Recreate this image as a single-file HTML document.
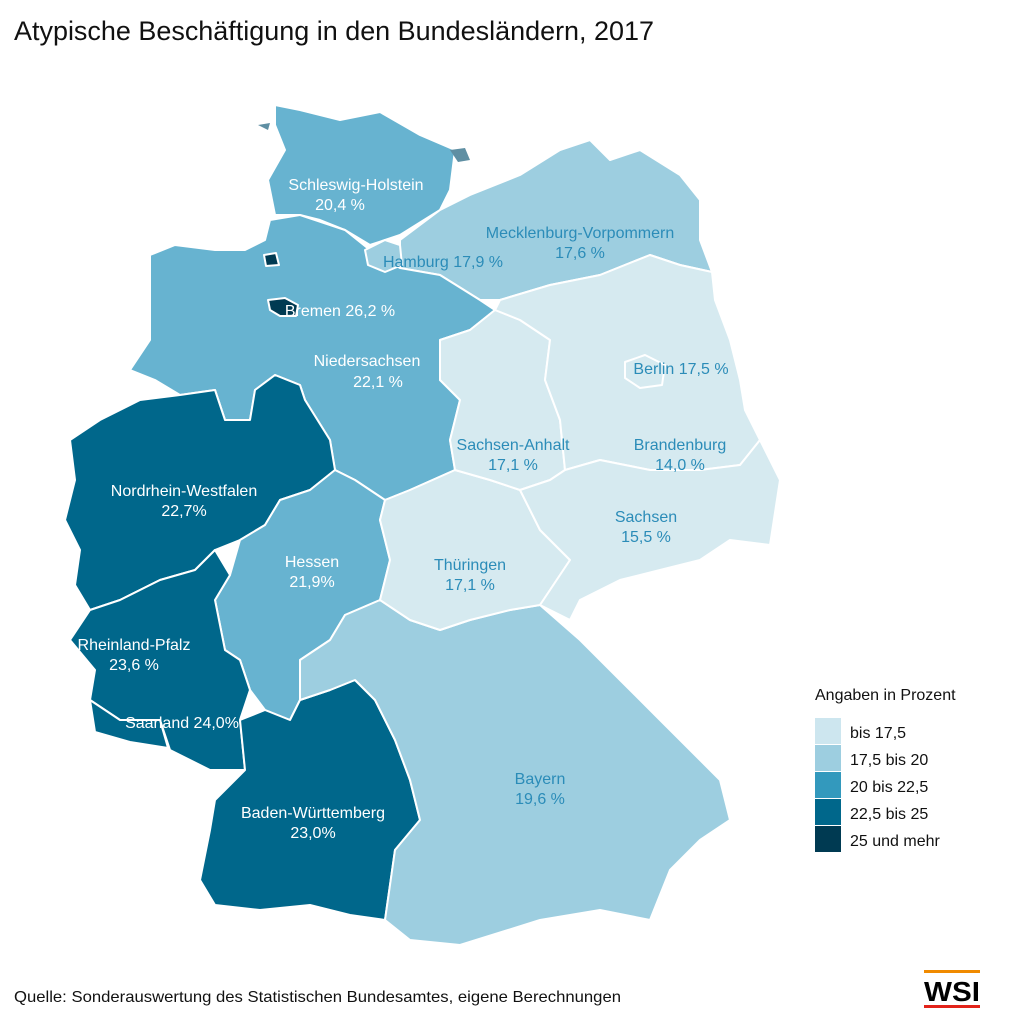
<!DOCTYPE html>
<html><head><meta charset="utf-8"><style>
html,body{margin:0;padding:0;background:#fff}
svg{display:block}
text{font-family:"Liberation Sans",sans-serif}
</style></head><body>
<svg width="1024" height="1024" viewBox="0 0 1024 1024">
<text x="14" y="40" font-size="27" fill="#111" textLength="640" lengthAdjust="spacingAndGlyphs">Atypische Beschäftigung in den Bundesländern, 2017</text>
<g stroke="#fff" stroke-width="2" stroke-linejoin="round">
<polygon fill="#67b3d0" points="275,105 300,110 340,120 380,112 420,135 455,150 450,190 440,210 400,235 370,245 345,230 320,220 300,215 275,215 268,180 285,150 275,125"/>
<polygon fill="#9dcee0" points="440,210 470,195 520,175 560,150 590,140 610,160 640,150 680,175 700,200 700,240 712,272 680,265 650,255 600,275 550,285 500,300 480,300 440,275 400,268 400,240"/>
<polygon fill="#67b3d0" points="150,255 175,245 215,250 245,250 265,240 270,220 300,215 345,230 370,250 400,268 440,275 480,300 495,310 470,330 440,340 440,380 460,400 450,440 455,470 410,490 385,500 355,480 335,470 330,440 305,400 300,385 275,375 255,390 250,420 225,420 215,390 180,395 155,380 130,370 150,340 150,300"/>
<polygon fill="#00678b" points="70,440 100,420 140,400 180,395 215,390 225,420 250,420 255,390 275,375 300,385 305,400 330,440 335,470 310,490 280,500 265,525 240,540 215,550 195,570 160,580 120,600 90,610 75,585 80,550 65,520 75,480"/>
<polygon fill="#67b3d0" points="265,525 280,500 310,490 335,470 355,480 385,500 380,520 390,560 380,600 345,615 330,640 300,660 300,700 290,720 265,710 250,690 240,660 225,650 215,600 230,575 240,540"/>
<polygon fill="#00678b" points="90,610 120,600 160,580 195,570 215,550 230,575 215,600 225,650 240,660 250,690 240,720 245,770 210,770 170,750 160,720 120,720 90,700 95,670 70,640"/>
<polygon fill="#00678b" points="90,700 120,720 160,720 168,748 130,742 95,732"/>
<polygon fill="#00678b" points="240,720 265,710 290,720 300,700 330,690 355,680 375,700 395,740 410,780 420,820 395,850 385,920 350,915 310,905 260,910 215,905 200,880 210,830 215,800 245,770"/>
<polygon fill="#9dcee0" points="300,660 330,640 345,615 380,600 410,620 440,630 470,620 510,610 540,605 580,640 620,680 660,720 720,780 730,820 700,840 670,870 650,920 600,910 540,920 460,945 410,940 385,920 395,850 420,820 410,780 395,740 375,700 355,680 330,690 300,700"/>
<polygon fill="#d6eaf0" points="385,500 410,490 455,470 490,480 520,490 540,530 570,560 540,605 510,610 470,620 440,630 410,620 380,600 390,560 380,520"/>
<polygon fill="#d6eaf0" points="440,340 470,330 495,310 520,320 550,340 545,380 560,420 565,470 550,480 520,490 490,480 455,470 450,440 460,400 440,380"/>
<polygon fill="#d6eaf0" points="495,310 500,300 550,285 600,275 650,255 680,265 712,272 715,300 730,340 740,380 745,410 760,440 740,465 700,470 650,470 600,460 565,470 560,420 545,380 550,340 520,320"/>
<polygon fill="#d6eaf0" points="565,470 600,460 650,470 700,470 740,465 760,440 780,480 770,545 730,540 700,560 660,570 620,580 580,600 570,620 540,605 570,560 540,530 520,490 550,480"/>
<polygon fill="#d6eaf0" points="625,362 645,355 665,365 662,385 640,388 625,378"/>
<polygon fill="#9dcee0" points="365,250 385,240 400,245 402,265 385,272 368,265"/>
<polygon fill="#003a52" points="268,300 285,298 298,305 296,316 280,316 270,310"/>
<polygon fill="#003a52" points="264,255 276,253 279,265 266,266"/>
</g>
<polygon fill="#5f8fa3" points="450,150 465,148 470,160 458,162"/>
<polygon fill="#5f8fa3" points="258,125 270,123 268,130"/>
<g font-size="16" text-anchor="middle" fill="#fff">
<text x="356" y="190">Schleswig-Holstein</text><text x="340" y="210">20,4 %</text>
<text x="367" y="366">Niedersachsen</text><text x="378" y="387">22,1 %</text>
<text x="184" y="496">Nordrhein-Westfalen</text><text x="184" y="516">22,7%</text>
<text x="312" y="567">Hessen</text><text x="312" y="587">21,9%</text>
<text x="134" y="650">Rheinland-Pfalz</text><text x="134" y="670">23,6 %</text>
<text x="182" y="728">Saarland 24,0%</text>
<text x="313" y="818">Baden-Württemberg</text><text x="313" y="838">23,0%</text>
<text x="340" y="316">Bremen 26,2 %</text>
</g>
<g font-size="16" text-anchor="middle" fill="#2b8cb8">
<text x="580" y="238">Mecklenburg-Vorpommern</text><text x="580" y="258">17,6 %</text>
<text x="443" y="267">Hamburg 17,9 %</text>
<text x="681" y="374">Berlin 17,5 %</text>
<text x="513" y="450">Sachsen-Anhalt</text><text x="513" y="470">17,1 %</text>
<text x="680" y="450">Brandenburg</text><text x="680" y="470">14,0 %</text>
<text x="646" y="522">Sachsen</text><text x="646" y="542">15,5 %</text>
<text x="470" y="570">Thüringen</text><text x="470" y="590">17,1 %</text>
<text x="540" y="784">Bayern</text><text x="540" y="804">19,6 %</text>
</g>
<text x="815" y="700" font-size="16" fill="#111">Angaben in Prozent</text>
<rect x="815" y="718" width="26" height="26" fill="#cde6ef"/>
<rect x="815" y="745" width="26" height="26" fill="#9dcee0"/>
<rect x="815" y="772" width="26" height="26" fill="#3399bd"/>
<rect x="815" y="799" width="26" height="26" fill="#00678b"/>
<rect x="815" y="826" width="26" height="26" fill="#003a52"/>
<g font-size="16" fill="#111">
<text x="850" y="738">bis 17,5</text>
<text x="850" y="765">17,5 bis 20</text>
<text x="850" y="792">20 bis 22,5</text>
<text x="850" y="819">22,5 bis 25</text>
<text x="850" y="846">25 und mehr</text>
</g>
<text x="14" y="1002" font-size="16" fill="#111" textLength="607" lengthAdjust="spacingAndGlyphs">Quelle: Sonderauswertung des Statistischen Bundesamtes, eigene Berechnungen</text>
<rect x="924" y="970" width="56" height="3" fill="#f08a00"/>
<text x="924" y="1001" font-size="28" font-weight="bold" fill="#000" textLength="56" lengthAdjust="spacingAndGlyphs">WSI</text>
<rect x="924" y="1005" width="56" height="3" fill="#e2231a"/>
</svg>
</body></html>
